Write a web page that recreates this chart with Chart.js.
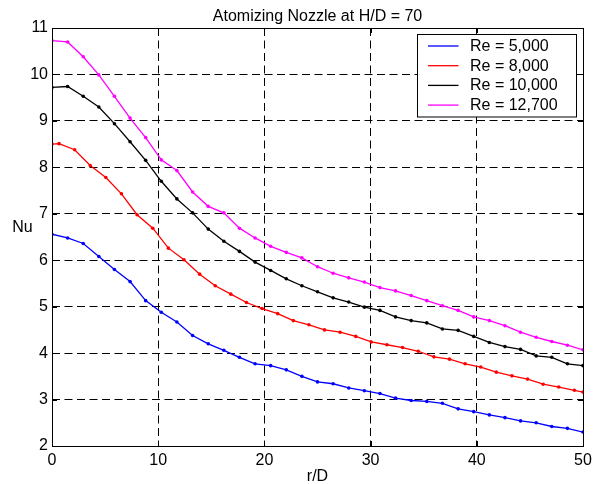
<!DOCTYPE html>
<html>
<head>
<meta charset="utf-8">
<script src="https://cdn.jsdelivr.net/npm/chart.js@4.4.0/dist/chart.umd.min.js"></script>
<style>
html,body{margin:0;padding:0;background:#fff;}
#wrap{width:603px;height:484px;position:relative;}
</style>
</head>
<body>
<div id="wrap"><canvas id="c" width="603" height="484"></canvas></div>
<script>
const chartTitle = 'Atomizing Nozzle at H/D = 70';
const xLabel = 'r/D';
const yLabel = 'Nu';
const seriesLabels = ['Re = 5,000', 'Re = 8,000', 'Re = 10,000', 'Re = 12,700'];
const seriesColors = ['#0000ff', '#ff0000', '#000000', '#ff00ff'];

const rdMain = [0, 1.47, 2.94, 4.41, 5.88, 7.35, 8.82, 10.29, 11.76, 13.24, 14.71, 16.18, 17.65, 19.12, 20.59, 22.06, 23.53, 25.00, 26.47, 27.94, 29.41, 30.88, 32.35, 33.82, 35.29, 36.76, 38.24, 39.71, 41.18, 42.65, 44.12, 45.59, 47.06, 48.53, 50.00];
const rdRe8000 = [0, 0.66, 2.13, 3.60, 5.07, 6.54, 8.01, 9.49, 10.96, 12.43, 13.90, 15.37, 16.84, 18.31, 19.78, 21.25, 22.72, 24.19, 25.66, 27.13, 28.60, 30.07, 31.54, 33.01, 34.49, 35.96, 37.43, 38.90, 40.37, 41.84, 43.31, 44.78, 46.25, 47.72, 49.19, 50.00];

const nuRe5000 = [6.56, 6.48, 6.36, 6.08, 5.80, 5.54, 5.13, 4.88, 4.67, 4.38, 4.20, 4.06, 3.91, 3.77, 3.73, 3.64, 3.50, 3.38, 3.34, 3.25, 3.19, 3.13, 3.03, 2.98, 2.96, 2.92, 2.80, 2.74, 2.67, 2.61, 2.54, 2.50, 2.42, 2.38, 2.30];
const nuRe8000 = [8.50, 8.51, 8.38, 8.04, 7.78, 7.43, 6.98, 6.69, 6.26, 6.01, 5.70, 5.45, 5.27, 5.09, 4.96, 4.85, 4.70, 4.61, 4.50, 4.45, 4.36, 4.24, 4.18, 4.12, 4.04, 3.92, 3.87, 3.77, 3.70, 3.59, 3.51, 3.44, 3.33, 3.27, 3.20, 3.16];
const nuRe10000 = [9.72, 9.74, 9.53, 9.30, 8.94, 8.55, 8.15, 7.70, 7.32, 7.02, 6.67, 6.41, 6.19, 5.96, 5.78, 5.60, 5.45, 5.32, 5.19, 5.10, 4.99, 4.92, 4.78, 4.70, 4.65, 4.52, 4.49, 4.36, 4.23, 4.14, 4.08, 3.94, 3.91, 3.77, 3.73];
const nuRe12700 = [10.73, 10.70, 10.38, 9.99, 9.53, 9.06, 8.64, 8.16, 7.93, 7.47, 7.16, 7.02, 6.69, 6.48, 6.30, 6.17, 6.05, 5.86, 5.72, 5.62, 5.53, 5.41, 5.34, 5.24, 5.13, 5.02, 4.92, 4.78, 4.70, 4.59, 4.45, 4.34, 4.25, 4.17, 4.07];

const xTicks = [0, 10, 20, 30, 40, 50];
const yTicks = [2, 3, 4, 5, 6, 7, 8, 9, 10, 11];

const FONT = '"Liberation Sans", Arial, Helvetica, sans-serif';

function pts(xs, ys) { return ys.map((y, i) => ({x: xs[i], y: y})); }

const seriesX = [rdMain, rdRe8000, rdMain, rdMain];
const seriesY = [nuRe5000, nuRe8000, nuRe10000, nuRe12700];

const datasets = seriesY.map((ys, k) => ({
  label: seriesLabels[k],
  data: pts(seriesX[k], ys),
  borderColor: seriesColors[k],
  backgroundColor: seriesColors[k],
  borderWidth: 1.3,
  pointRadius: 1.8,
  pointBorderWidth: 0,
  pointHoverRadius: 1.8,
  showLine: true,
  tension: 0,
  fill: false
}));

const decor = {
  id: 'decor',
  afterDraw(chart) {
    const ctx = chart.ctx;
    const a = chart.chartArea;
    const xs = chart.scales.x, ys = chart.scales.y;
    ctx.save();
    // inward ticks
    ctx.strokeStyle = '#000';
    ctx.lineWidth = 1;
    ctx.setLineDash([]);
    const tl = 5;
    xTicks.forEach(v => {
      const px = Math.round(xs.getPixelForValue(v)) + 0.5;
      ctx.beginPath();
      ctx.moveTo(px, a.bottom); ctx.lineTo(px, a.bottom - tl);
      ctx.moveTo(px, a.top); ctx.lineTo(px, a.top + tl);
      ctx.stroke();
    });
    yTicks.forEach(v => {
      const py = Math.round(ys.getPixelForValue(v)) + 0.5;
      ctx.beginPath();
      ctx.moveTo(a.left, py); ctx.lineTo(a.left + tl, py);
      ctx.moveTo(a.right, py); ctx.lineTo(a.right - tl, py);
      ctx.stroke();
    });
    // axes box
    ctx.strokeRect(Math.round(a.left) + 0.5, Math.round(a.top) + 0.5,
                   Math.round(a.right) - Math.round(a.left), Math.round(a.bottom) - Math.round(a.top));
    // title and axis labels
    ctx.fillStyle = '#000';
    ctx.font = '16px ' + FONT;
    ctx.textAlign = 'center';
    ctx.textBaseline = 'alphabetic';
    const cx = (a.left + a.right) / 2;
    ctx.fillText(chartTitle, cx, 20.5);
    ctx.fillText(xLabel, cx, 481);
    ctx.textBaseline = 'middle';
    ctx.fillText(yLabel, 22.5, 228);
    // legend
    const lx = 417.5, ly = 34.5, lw = 159, lh = 82.5;
    ctx.fillStyle = '#fff';
    ctx.fillRect(lx, ly, lw, lh);
    ctx.strokeStyle = '#000';
    ctx.lineWidth = 1;
    ctx.strokeRect(lx, ly, lw, lh);
    ctx.textAlign = 'left';
    ctx.textBaseline = 'middle';
    seriesLabels.forEach((lab, k) => {
      const yy = 46 + k * 19.7;
      ctx.strokeStyle = seriesColors[k];
      ctx.lineWidth = 1.3;
      ctx.beginPath();
      ctx.moveTo(428, yy); ctx.lineTo(458.5, yy);
      ctx.stroke();
      ctx.fillStyle = '#000';
      ctx.fillText(lab, 470, yy + 0.5);
    });
    ctx.restore();
  }
};

new Chart(document.getElementById('c'), {
  type: 'scatter',
  data: { datasets: datasets },
  options: {
    responsive: false,
    animation: false,
    events: [],
    layout: { padding: { top: 28, right: 20, left: 0, bottom: 0 } },
    plugins: { legend: { display: false }, title: { display: false }, tooltip: { enabled: false } },
    scales: {
      x: {
        type: 'linear', min: 0, max: 50,
        afterFit(s) { s.height = 38; },
        afterBuildTicks(s) { s.ticks = xTicks.map(v => ({value: v})); },
        ticks: { color: '#000', font: { family: FONT, size: 16 }, padding: 5, maxRotation: 0 },
        grid: { color: '#000', lineWidth: 1, drawTicks: false },
        border: { display: false, dash: [8, 4.5] }
      },
      y: {
        type: 'linear', min: 2, max: 11,
        afterFit(s) { s.width = 52; },
        afterBuildTicks(s) { s.ticks = yTicks.map(v => ({value: v})); },
        ticks: { color: '#000', font: { family: FONT, size: 16 }, padding: 4 },
        grid: { color: '#000', lineWidth: 1, drawTicks: false },
        border: { display: false, dash: [8, 4.5] }
      }
    }
  },
  plugins: [decor]
});
</script>
</body>
</html>
